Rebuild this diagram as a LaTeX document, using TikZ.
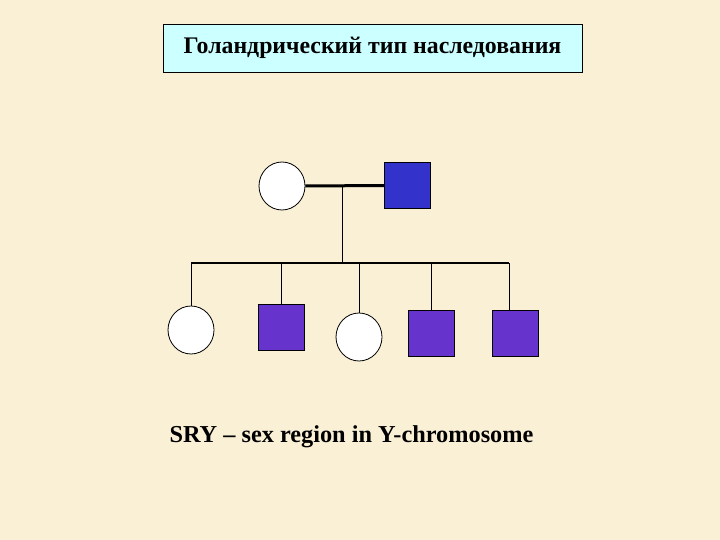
\documentclass[tikz,border=0pt]{standalone}
\usepackage{fontspec}
\usetikzlibrary{shapes.geometric}
\setmainfont{Liberation Serif}
\begin{document}
\begin{tikzpicture}[x=1pt,y=-1pt,
  fem/.style={draw,thick,ellipse,minimum width=46pt,minimum height=48pt,inner sep=0pt,fill=white},
  male/.style={draw,thick,minimum size=46pt,inner sep=0pt},
  ln/.style={line width=0.8pt}]
\fill[fill={rgb,255:red,250;green,240;blue,214}] (0,0) rectangle (720,540);
\useasboundingbox (0,0) rectangle (720,540);
\node[draw,thick,fill={rgb,255:red,204;green,255;blue,255},minimum width=419pt,minimum height=48pt,font=\bfseries\fontsize{23.8}{27}\selectfont] (title) at (372.5,48) {Голандрический тип наследования};
\node[fem] (m) at (282,186) {};
\node[male,fill={rgb,255:red,51;green,51;blue,204}] (f) at (407.5,185.5) {};
\draw[line width=3pt] (m.east) -- (f.west);
\coordinate (mid) at (342,186);
\coordinate (sl) at (191,263);
\coordinate (sr) at (509,263);
\coordinate (sm) at (342,263);
\draw[ln] (mid) -- (sm);
\draw[line width=2pt] (sl) -- (sr);
\node[fem] (c1) at (191,330) {};
\node[male,fill={rgb,255:red,102;green,51;blue,204}] (c2) at (281.5,327) {};
\node[fem] (c3) at (359,337) {};
\node[male,fill={rgb,255:red,102;green,51;blue,204}] (c4) at (431,333.5) {};
\node[male,fill={rgb,255:red,102;green,51;blue,204}] (c5) at (515,333) {};
\draw[ln] (sl) -- (c1.north);
\draw[ln] (c2.north|-sl) -- (c2.north);
\draw[ln] (c3.north|-sl) -- (c3.north);
\draw[ln] (c4.north|-sl) -- (c4.north);
\draw[ln] (sr) -- (c5.north-|sr);
\node[anchor=west,font=\bfseries\fontsize{24.3}{28}\selectfont] (t) at (166,437) {SRY – sex region in Y-chromosome};
\end{tikzpicture}
\end{document}
